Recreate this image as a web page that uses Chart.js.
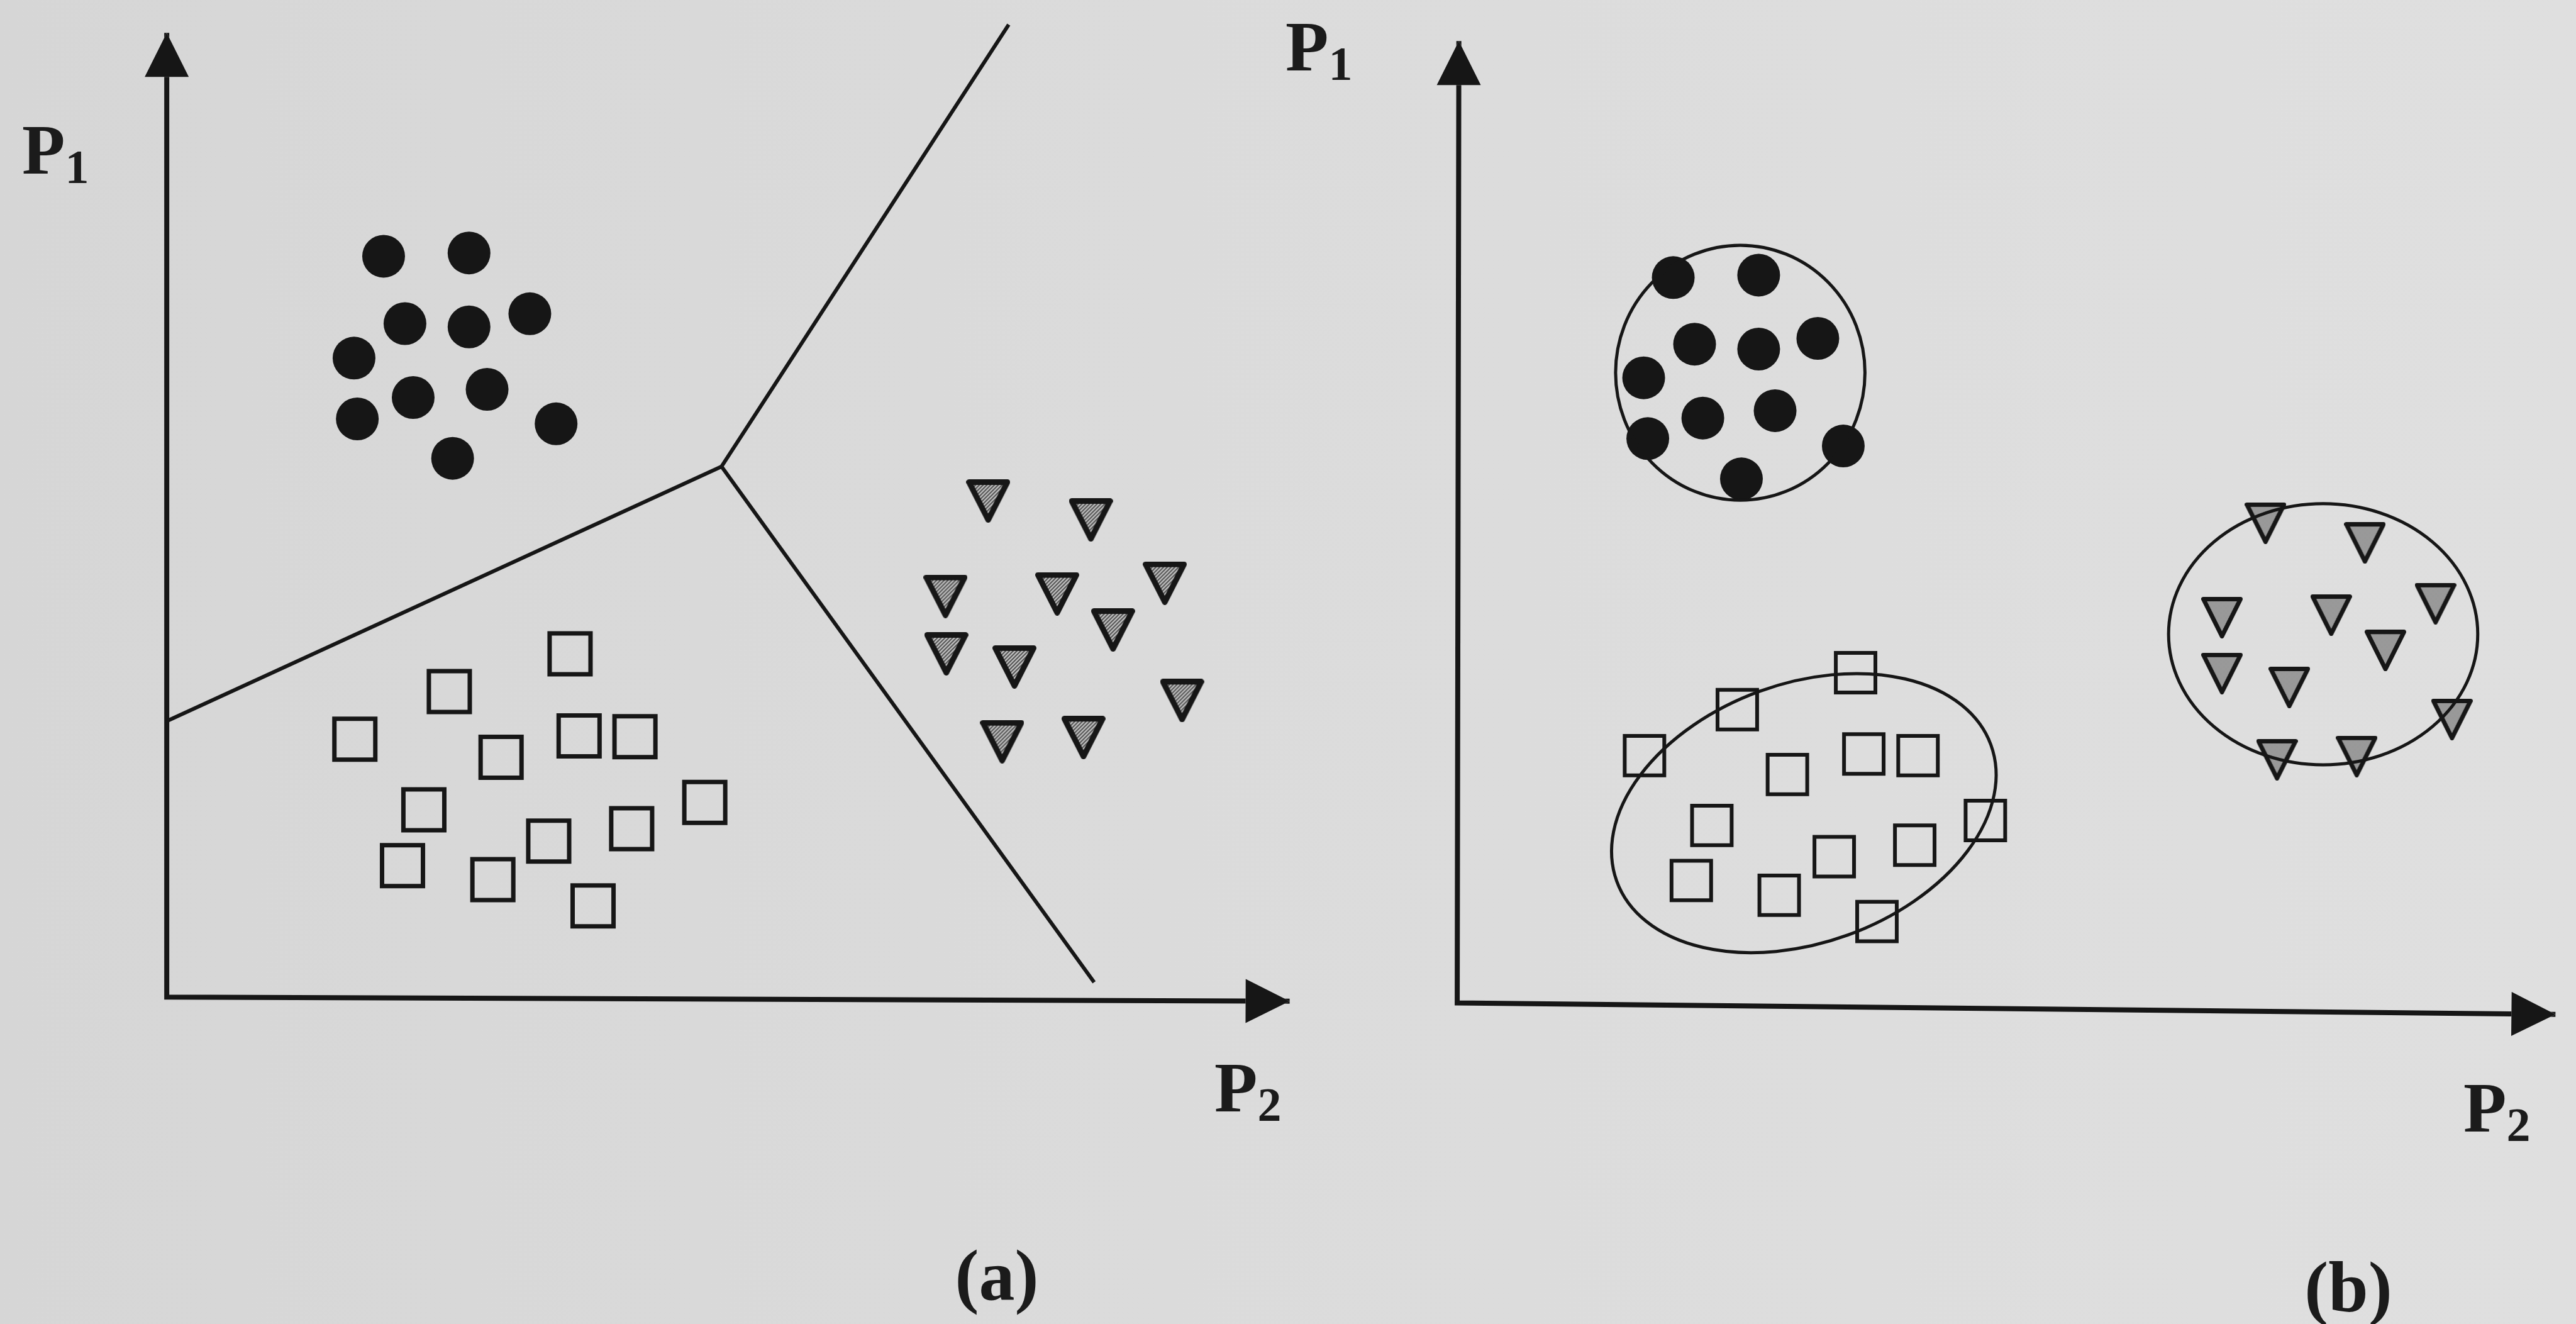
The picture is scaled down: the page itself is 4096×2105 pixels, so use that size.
<!DOCTYPE html>
<html>
<head>
<meta charset="utf-8">
<script src="https://cdn.jsdelivr.net/npm/chart.js@4.4.4/dist/chart.umd.min.js"></script>
<style>
  html, body { margin: 0; padding: 0; overflow: hidden; }
  body {
    width: 4096px; height: 2105px; position: relative;
    background: linear-gradient(to right, #d6d6d6, #dbdbdb 45%, #dfdfdf);
  }
  #plot { position: absolute; left: 0; top: 0; }
  .lbl {
    position: absolute; white-space: nowrap; line-height: 1;
    font-family: "Liberation Serif", "Times New Roman", serif;
    font-weight: bold; font-size: 112px; color: #1b1b1b;
  }
  .lbl sub { font-size: 76px; vertical-align: -15px; line-height: 1; }
  .tag { font-size: 114px; width: 300px; text-align: center; }
  #p1a { left: 35px;   top: 182px; }
  #p2a { left: 1931px; top: 1673px; }
  #p1b { left: 2044px; top: 18px; }
  #p2b { left: 3917px; top: 1705px; }
  #tag-a { left: 1435px; top: 1971px; }
  #tag-b { left: 3584px; top: 1990px; }
</style>
</head>
<body>
<canvas id="plot" width="4096" height="2105"></canvas>
<div class="lbl" id="p1a">P<sub>1</sub></div>
<div class="lbl" id="p2a">P<sub>2</sub></div>
<div class="lbl tag" id="tag-a">(a)</div>
<div class="lbl" id="p1b">P<sub>1</sub></div>
<div class="lbl" id="p2b">P<sub>2</sub></div>
<div class="lbl tag" id="tag-b">(b)</div>
<script>
const INK = '#161616';

// panel (a): three classes split by linear boundaries, points as [P2, P1]
const aCircles = [[13.2, 45.1], [18.4, 45.3], [14.5, 41.0], [18.4, 40.8], [22.1, 41.6], [11.4, 38.9],
                  [15.0, 36.5], [19.5, 37.0], [11.6, 35.2], [23.7, 34.9], [17.4, 32.8]];
const aSquares = [[24.55, 20.9], [17.2, 18.6], [11.45, 15.7], [20.35, 14.6], [25.1, 15.9], [28.5, 15.85],
                  [32.75, 11.85], [15.65, 11.4], [23.25, 9.5], [28.3, 10.25], [14.35, 8.0], [19.85, 7.15], [25.95, 5.55]];
const aTriangles = [[50.0, 30.2], [56.25, 29.05], [60.75, 25.2], [47.4, 24.4], [54.2, 24.55], [57.6, 22.35],
                    [47.45, 20.9], [51.6, 20.1], [61.8, 18.05], [50.85, 15.55], [55.8, 15.8]];
const aBoundaryNorth = [[0, 16.8], [33.77, 32.3], [51.25, 59.2]];
const aBoundarySouth = [[33.77, 32.3], [56.45, 0.9]];
const aAxes = [[0, 58.7], [0, 0], [68.35, -0.25]];

// panel (b): the same classes enclosed by cluster outlines
const bCircles = [[13.15, 44.15], [18.35, 44.3], [14.45, 40.1], [18.35, 39.8], [21.95, 40.45], [11.35, 38.05],
                  [14.95, 35.6], [19.35, 36.05], [11.6, 34.35], [23.5, 33.9], [17.3, 31.9]];
const bSquares = [[24.25, 20.1], [17.05, 17.85], [11.4, 15.05], [20.1, 13.9], [24.75, 15.15], [28.05, 15.05],
                  [32.15, 11.1], [15.5, 10.8], [22.95, 8.9], [27.85, 9.6], [14.25, 7.45], [19.6, 6.55], [25.55, 4.95]];
const bTriangles = [[49.2, 29.2], [55.25, 28.0], [59.55, 24.3], [46.55, 23.45], [53.2, 23.6], [56.5, 21.45],
                    [46.55, 20.05], [50.65, 19.2], [60.55, 17.25], [49.9, 14.8], [54.75, 15.0]];
const bAxes = [[0.1, 58.55], [0, 0], [66.85, -0.7]];
const bHullCentres = [[17.23, 38.36], [21.1, 11.55], [52.71, 22.44]];
const bHullRadii = [[7.59, 7.76], [12.12, 7.89], [9.41, 7.95]];
const bHullTilt = [0, 20, 0];

// visible extent of each panel's coordinate system
const aRangeP2 = [-10.15, 146.65], aRangeP1 = [-19.9, 60.7];
const bRangeP2 = [-88.7, 68.1], bRangeP1 = [-19.55, 61.05];

const ARROW_LEN = 70, ARROW_HALF = 35;

const pts = arr => arr.map(([x, y]) => ({x, y}));

function hatchFill(g) {
  const t = document.createElement('canvas');
  t.width = t.height = 6;
  const h = t.getContext('2d');
  h.fillStyle = '#c6c6c6';
  h.fillRect(0, 0, 6, 6);
  h.strokeStyle = '#505050';
  h.lineWidth = 2;
  h.beginPath();
  h.moveTo(-1, 7); h.lineTo(7, -1);
  h.moveTo(-1, 1); h.lineTo(1, -1);
  h.moveTo(5, 7); h.lineTo(7, 5);
  h.stroke();
  return g.createPattern(t, 'repeat');
}

function stippleFill(g) {
  const t = document.createElement('canvas');
  t.width = t.height = 2;
  const h = t.getContext('2d');
  h.fillStyle = '#b4b4b4'; h.fillRect(0, 0, 2, 2);
  h.fillStyle = '#7e7e7e'; h.fillRect(0, 0, 1, 1); h.fillRect(1, 1, 1, 1);
  return g.createPattern(t, 'repeat');
}

// downward triangle marker, bounding box centred on the point
function triangleMark(w, h, lw, fill) {
  const c = document.createElement('canvas');
  c.width = w; c.height = h;
  const g = c.getContext('2d');
  g.beginPath();
  g.moveTo(lw / 2, lw / 2);
  g.lineTo(w - lw / 2, lw / 2);
  g.lineTo(w / 2, h - lw / 2);
  g.closePath();
  g.fillStyle = fill(g);
  g.fill();
  g.lineJoin = 'round';
  g.lineWidth = lw;
  g.strokeStyle = INK;
  g.stroke();
  return c;
}

const triA = triangleMark(70, 69, 9, hatchFill);
const triB = triangleMark(66, 66, 7, stippleFill);

function arrowPath(ctx, tip, from) {
  const ang = Math.atan2(tip.y - from.y, tip.x - from.x);
  const ux = Math.cos(ang), uy = Math.sin(ang);
  const bx = tip.x - ux * ARROW_LEN, by = tip.y - uy * ARROW_LEN;
  ctx.moveTo(tip.x, tip.y);
  ctx.lineTo(bx - uy * ARROW_HALF, by + ux * ARROW_HALF);
  ctx.lineTo(bx + uy * ARROW_HALF, by - ux * ARROW_HALF);
  ctx.closePath();
}

// arrowheads on both ends of every axis polyline
const arrowHeads = {
  id: 'arrowHeads',
  beforeDatasetDraw(chart, args) {
    if (!chart.data.datasets[args.index].arrows) return;
    const p = args.meta.data, ctx = chart.ctx;
    ctx.save();
    ctx.beginPath();
    ctx.rect(0, 0, chart.width, chart.height);
    arrowPath(ctx, p[0], p[1]);
    arrowPath(ctx, p[p.length - 1], p[p.length - 2]);
    ctx.clip('evenodd');
  },
  afterDatasetDraw(chart, args) {
    if (!chart.data.datasets[args.index].arrows) return;
    const p = args.meta.data, ctx = chart.ctx;
    ctx.restore();
    ctx.save();
    ctx.fillStyle = INK;
    ctx.beginPath();
    arrowPath(ctx, p[0], p[1]);
    arrowPath(ctx, p[p.length - 1], p[p.length - 2]);
    ctx.fill();
    ctx.restore();
  }
};

// cluster outlines of panel (b)
const hulls = {
  id: 'hulls',
  afterDatasetsDraw(chart) {
    const {ctx, scales: {xb, yb}} = chart;
    ctx.save();
    ctx.strokeStyle = INK;
    ctx.lineWidth = 5;
    bHullCentres.forEach(([cx, cy], i) => {
      const px = xb.getPixelForValue(cx), py = yb.getPixelForValue(cy);
      const rx = Math.abs(xb.getPixelForValue(cx + bHullRadii[i][0]) - px);
      const ry = Math.abs(yb.getPixelForValue(cy + bHullRadii[i][1]) - py);
      ctx.beginPath();
      ctx.ellipse(px, py, rx, ry, -bHullTilt[i] * Math.PI / 180, 0, Math.PI * 2);
      ctx.stroke();
    });
    ctx.restore();
  }
};

const line = (data, width, x, y, extra) => Object.assign({
  data: pts(data), xAxisID: x, yAxisID: y, showLine: true, pointRadius: 0,
  borderColor: INK, borderWidth: width, borderJoinStyle: 'round', clip: false, order: 5
}, extra);

const circles = (data, x, y) => ({
  data: pts(data), xAxisID: x, yAxisID: y, pointStyle: 'circle', pointRadius: 34,
  pointBackgroundColor: INK, pointBorderWidth: 0, clip: false, order: 1
});

const squares = (data, x, y, r, w) => ({
  data: pts(data), xAxisID: x, yAxisID: y, pointStyle: 'rect', pointRadius: r,
  pointBackgroundColor: 'rgba(0,0,0,0)', pointBorderColor: INK, pointBorderWidth: w, clip: false, order: 3
});

const triangles = (data, x, y, mark) => ({
  data: pts(data), xAxisID: x, yAxisID: y, pointStyle: mark, pointRadius: 35, clip: false, order: 2
});

const hidden = range => ({type: 'linear', display: false, bounds: 'data', min: range[0], max: range[1]});

new Chart(document.getElementById('plot'), {
  type: 'scatter',
  data: {
    datasets: [
      line(aAxes, 8, 'xa', 'ya', {arrows: true, borderJoinStyle: 'miter', order: 6}),
      line(aBoundaryNorth, 6, 'xa', 'ya'),
      line(aBoundarySouth, 6, 'xa', 'ya'),
      circles(aCircles, 'xa', 'ya'),
      squares(aSquares, 'xa', 'ya', 46, 7),
      triangles(aTriangles, 'xa', 'ya', triA),
      line(bAxes, 8, 'xb', 'yb', {arrows: true, borderJoinStyle: 'miter', order: 6}),
      circles(bCircles, 'xb', 'yb'),
      squares(bSquares, 'xb', 'yb', 44.5, 6),
      triangles(bTriangles, 'xb', 'yb', triB)
    ]
  },
  options: {
    responsive: false,
    animation: false,
    devicePixelRatio: 1,
    events: [],
    layout: {padding: 0, autoPadding: false},
    plugins: {legend: {display: false}, tooltip: {enabled: false}},
    scales: {
      xa: hidden(aRangeP2),
      ya: hidden(aRangeP1),
      xb: hidden(bRangeP2),
      yb: hidden(bRangeP1)
    }
  },
  plugins: [arrowHeads, hulls]
});
</script>
</body>
</html>
